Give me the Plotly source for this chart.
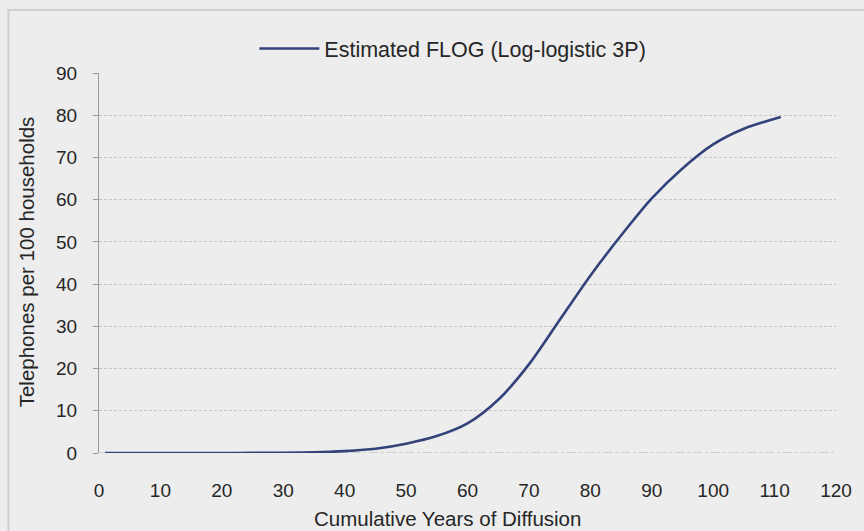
import plotly.graph_objects as go

# Data
years = [1, 5, 10, 15, 20, 25, 30, 35, 40, 45, 50, 55, 60, 65, 70, 75, 80, 85, 90, 95, 100, 105, 111]
phones = [0.0, 0.0, 0.0, 0.0, 0.0, 0.02, 0.05, 0.15, 0.45, 1.0, 2.2, 4.0, 7.0, 12.6, 21.0, 31.5, 42.0, 51.5, 60.3, 67.4, 73.1, 76.8, 79.6]

series_name = "Estimated FLOG (Log-logistic 3P)"
x_ticks = list(range(0, 121, 10))
y_ticks = list(range(0, 91, 10))

BG = "#ededed"
TXT = "#262626"
FONT = "Liberation Sans, Arial, sans-serif"

fig = go.Figure()
fig.add_trace(go.Scatter(
    x=years, y=phones, mode="lines", name=series_name,
    line=dict(color="#34427a", width=2.6, shape="spline", smoothing=0.8),
    showlegend=True,
))

L, R, T, B = 99, 25, 73, 78
W, H = 864, 531

fig.update_layout(
    width=W, height=H,
    margin=dict(l=L, r=R, t=T, b=B),
    paper_bgcolor=BG, plot_bgcolor=BG,
    font=dict(family=FONT, color=TXT, size=19),
    showlegend=True,
    legend=dict(
        x=(255 - L) / (W - L - R), y=(H - B - 28) / (H - T - B),
        xanchor="left", yanchor="top",
        bgcolor="rgba(0,0,0,0)",
        font=dict(size=21.5, family=FONT, color=TXT),
        itemwidth=60,
    ),
    xaxis=dict(
        range=[0, 120], tickvals=x_ticks, showgrid=False, zeroline=False,
        showline=False, ticks="", ticklabelstandoff=24,
        tickfont=dict(size=19), fixedrange=True,
    ),
    yaxis=dict(
        range=[0, 90], tickvals=y_ticks, showgrid=True,
        gridcolor="#c6c6c6", griddash="3px,2px", gridwidth=1,
        zeroline=False, showline=True, linecolor="#9a9a9a", linewidth=1.2,
        ticks="outside", ticklen=5, tickcolor="#9a9a9a",
        ticklabelstandoff=12, tickfont=dict(size=19), fixedrange=True,
    ),
    annotations=[
        dict(text="Cumulative Years of Diffusion", xref="paper", yref="paper",
             x=(449 - L) / (W - L - R), y=(H - B - 518) / (H - T - B),
             xanchor="center", yanchor="middle", showarrow=False,
             font=dict(size=20.5, family=FONT, color=TXT)),
        dict(text="Telephones per 100 households", xref="paper", yref="paper",
             x=(26 - L) / (W - L - R), y=(H - B - 262) / (H - T - B),
             xanchor="center", yanchor="middle", showarrow=False, textangle=-90,
             font=dict(size=20.5, family=FONT, color=TXT)),
    ],
    shapes=[
        # zero reference line (dash-dot)
        dict(type="line", xref="x", yref="y", x0=0, x1=120, y0=0, y1=0,
             line=dict(color="#b4b4b4", width=1.2, dash="dashdot"), layer="below"),
        # outer chart frame
        dict(type="rect", xref="paper", yref="paper",
             x0=(8 - L) / (W - L - R), x1=1.2,
             y0=-0.4, y1=(H - B - 10) / (H - T - B),
             line=dict(color="#cfcfcf", width=2), layer="below"),
    ],
)

fig.write_html("out.html")
